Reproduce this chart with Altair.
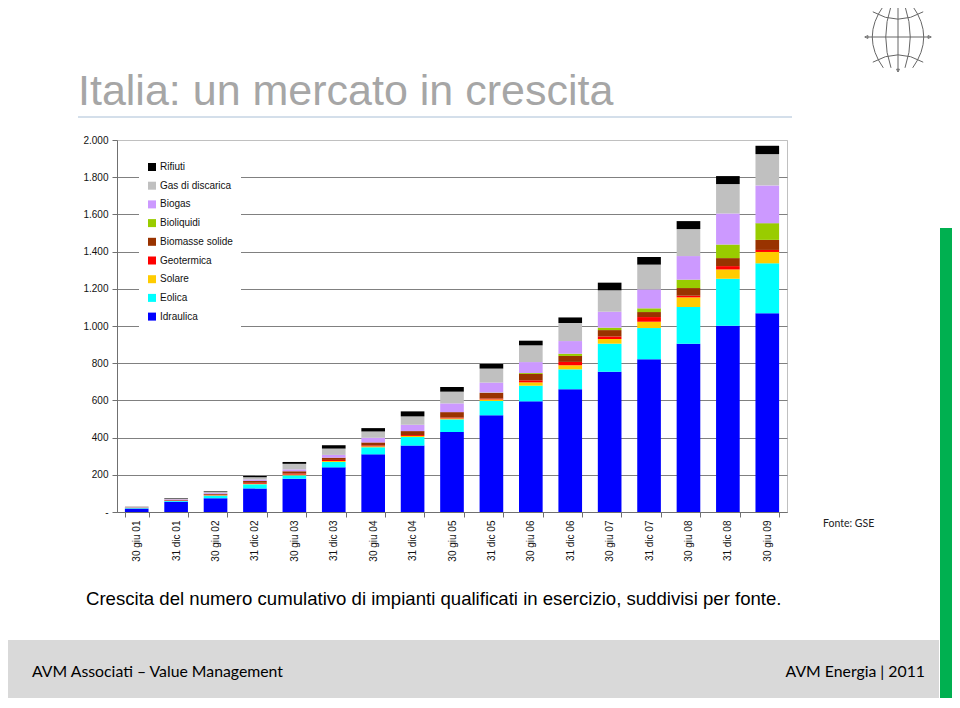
import altair as alt
import pandas as pd

# ---------------- data ----------------
categories = ["30 giu 01", "31 dic 01", "30 giu 02", "31 dic 02", "30 giu 03", "31 dic 03",
              "30 giu 04", "31 dic 04", "30 giu 05", "31 dic 05", "30 giu 06", "31 dic 06",
              "30 giu 07", "31 dic 07", "30 giu 08", "31 dic 08", "30 giu 09"]

idraulica  = [18, 55, 74, 127, 179, 240, 310, 357, 430, 520, 595, 660, 754, 821, 905, 1002, 1068]
eolica     = [3, 5, 14, 22, 18, 29, 38, 46, 68, 77, 84, 107, 151, 168, 197, 252, 269]
solare     = [0, 1, 2, 3, 4, 5, 5, 6, 5, 8, 18, 22, 25, 34, 52, 50, 61]
geotermica = [1, 2, 3, 5, 6, 6, 5, 5, 5, 5, 11, 18, 14, 25, 9, 18, 11]
biomasse   = [2, 3, 5, 10, 12, 12, 16, 21, 29, 30, 34, 32, 34, 27, 41, 43, 54]
bioliquidi = [0, 0, 0, 0, 0, 0, 0, 0, 0, 2, 5, 12, 13, 20, 45, 73, 90]
biogas     = [1, 2, 4, 8, 10, 15, 25, 34, 47, 54, 59, 68, 86, 102, 127, 167, 203]
gas        = [2, 5, 8, 12, 30, 34, 34, 45, 63, 75, 90, 97, 115, 133, 145, 158, 168]
rifiuti    = [1, 2, 3, 7, 10, 18, 18, 27, 25, 25, 25, 30, 41, 41, 43, 43, 45]

series = ["Idraulica", "Eolica", "Solare", "Geotermica", "Biomasse solide",
          "Bioliquidi", "Biogas", "Gas di discarica", "Rifiuti"]
series_values = [idraulica, eolica, solare, geotermica, biomasse,
                 bioliquidi, biogas, gas, rifiuti]
colors = ["#0000ff", "#00ffff", "#ffcc00", "#ff0000", "#993300",
          "#99cc00", "#cc99ff", "#c0c0c0", "#000000"]

y_ticks = [0, 200, 400, 600, 800, 1000, 1200, 1400, 1600, 1800, 2000]

title_text = "Italia: un mercato in crescita"
subtitle_text = ("Crescita del numero cumulativo di impianti qualificati in esercizio, "
                 "suddivisi per fonte.")
source_text = "Fonte: GSE"
footer_left = "AVM Associati \u2013 Value Management"
footer_right = "AVM Energia | 2011"

rows = []
for k, (name, vals) in enumerate(zip(series, series_values)):
    for cat, v in zip(categories, vals):
        rows.append({"cat": cat, "fonte": name, "v": v, "k": k})
df = pd.DataFrame(rows)

# ---------------- chart ----------------
FONT = "Liberation Sans"
one = pd.DataFrame({"t": [""]})

bars = alt.Chart(df).mark_bar().encode(
    x=alt.X("cat:N", sort=categories,
            scale=alt.Scale(paddingInner=0.4, paddingOuter=0.2),
            axis=alt.Axis(title=None, labelAngle=-90, labelFont=FONT, labelFontSize=10,
                          labelColor="#111", tickBand="extent", tickSize=5,
                          labelPadding=3, domainColor="#707070", tickColor="#707070")),
    y=alt.Y("v:Q", stack="zero",
            scale=alt.Scale(domain=[0, 2000], nice=False),
            axis=alt.Axis(title=None, values=y_ticks, labelFont=FONT, labelFontSize=10,
                          labelColor="#111", tickSize=5, labelPadding=4,
                          domainColor="#707070", tickColor="#707070",
                          gridColor={"condition": {"test": "datum.value === 2000",
                                                   "value": "#c0c0c0"},
                                     "value": "#808080"},
                          labelExpr="datum.value == 0 ? '-' : replace(format(datum.value, ','), ',', '.')")),
    color=alt.Color("fonte:N",
                    scale=alt.Scale(domain=series[::-1], range=colors[::-1]),
                    legend=alt.Legend(title=None, orient="none", legendX=22, legendY=14,
                                      fillColor="white", padding=8,
                                      symbolType="square", symbolSize=64,
                                      symbolStrokeWidth=0, symbolOpacity=1,
                                      labelFont=FONT, labelFontSize=10, labelColor="#111",
                                      labelOffset=3, rowPadding=8.7)),
    order=alt.Order("k:Q", sort="ascending"),
)

title = alt.Chart(pd.DataFrame({"t": [title_text]})).mark_text(
    align="left", baseline="alphabetic", font=FONT, fontSize=43, color="#a6a6a6"
).encode(x=alt.value(-39), y=alt.value(-35), text="t:N")

title_rule = alt.Chart(one).mark_rule(color="#a9bfd6", strokeWidth=1).encode(
    x=alt.value(-39), x2=alt.value(675), y=alt.value(-23))

subtitle = alt.Chart(pd.DataFrame({"t": [subtitle_text]})).mark_text(
    align="left", baseline="alphabetic", font=FONT, fontSize=18.6, color="#000000"
).encode(x=alt.value(-31), y=alt.value(465), text="t:N")

source = alt.Chart(pd.DataFrame({"t": [source_text]})).mark_text(
    align="left", baseline="alphabetic", font="Lato", fontSize=10.5, color="#222"
).encode(x=alt.value(706), y=alt.value(387), text="t:N")

footer_bg = alt.Chart(one).mark_rect(color="#d9d9d9").encode(
    x=alt.value(-109), x2=alt.value(822), y=alt.value(500), y2=alt.value(558))

green_bar = alt.Chart(one).mark_rect(color="#00b050").encode(
    x=alt.value(823), x2=alt.value(835), y=alt.value(88), y2=alt.value(558))

foot_l = alt.Chart(pd.DataFrame({"t": [footer_left]})).mark_text(
    align="left", baseline="alphabetic", font="Lato", fontSize=15.8, color="#000"
).encode(x=alt.value(-85), y=alt.value(537), text="t:N")

foot_r = alt.Chart(pd.DataFrame({"t": [footer_right]})).mark_text(
    align="right", baseline="alphabetic", font="Lato", fontSize=15.8, color="#000"
).encode(x=alt.value(808), y=alt.value(537), text="t:N")

globe_path = ("M -0.88 0 L 0.88 0 M 0 -0.95 L 0 0.95 "
              "M -0.72 -0.72 Q 0 -0.3 0.72 -0.72 "
              "M -0.72 0.72 Q 0 0.3 0.72 0.72 "
              "M -0.42 -0.88 Q -1.05 0 -0.42 0.88 "
              "M 0.42 -0.88 Q 1.05 0 0.42 0.88 "
              "M -0.2 -0.88 Q -0.5 0 -0.2 0.88 "
              "M 0.2 -0.88 Q 0.5 0 0.2 0.88 "
              "M -0.95 0 L -0.86 -0.04 L -0.86 0.04 Z "
              "M 0.95 0 L 0.86 -0.04 L 0.86 0.04 Z "
              "M 0 -1 L -0.04 -0.92 L 0.04 -0.92 Z "
              "M 0 1 L -0.04 0.92 L 0.04 0.92 Z")

globe = alt.Chart(one).mark_point(
    shape=globe_path, size=4900, filled=False, color="#666666",
    strokeWidth=1, opacity=1
).encode(x=alt.value(781), y=alt.value(-103))

chart = alt.layer(
    footer_bg, green_bar, bars, title, title_rule, subtitle, source, foot_l, foot_r, globe
).properties(
    width=670, height=372,
    autosize=alt.AutoSizeParams(type="none"),
    padding={"left": 109, "top": 132, "right": 165, "bottom": 186},
    background="white",
).configure_view(stroke="#c0c0c0", strokeWidth=1)

chart.save("out.html", embed_options={"renderer": "svg", "actions": False})
